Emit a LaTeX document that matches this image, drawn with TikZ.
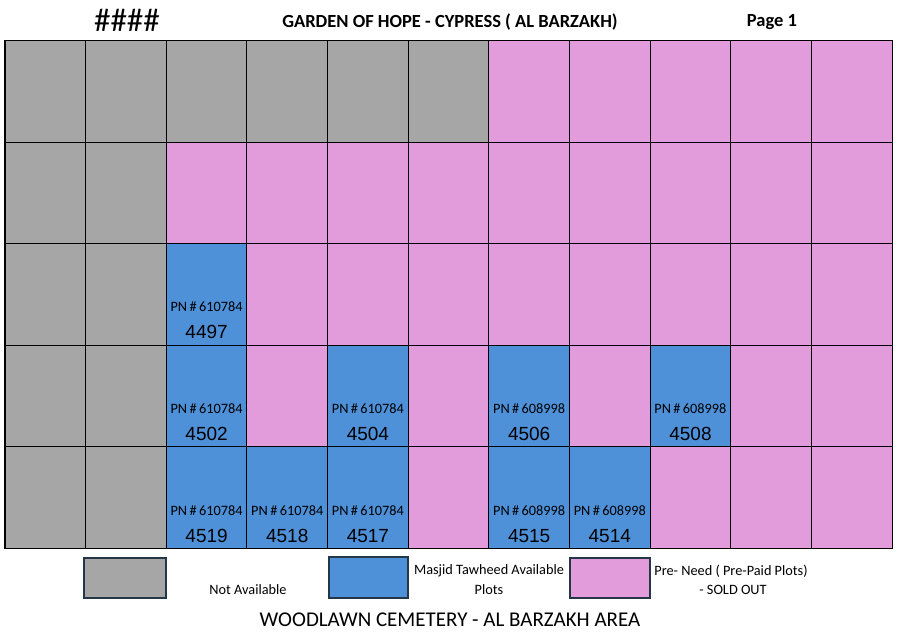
\documentclass[tikz,border=0pt]{standalone}
\usepackage{fontspec}
\setmainfont{Carlito}
\newfontfamily\arialfont{Liberation Sans}
\usepackage{tikz}

\definecolor{G}{HTML}{A6A6A6}
\definecolor{B}{HTML}{4E91D9}
\definecolor{P}{HTML}{E39CDB}
\definecolor{legendline}{HTML}{243746}

\tikzset{
  cell/.style={draw=black,line width=1.1pt,minimum width=80.64pt,minimum height=101.6pt,inner sep=0pt},
  lotno/.style={font=\arialfont\fontsize{19}{20}\selectfont,inner sep=0pt,anchor=base},
  pnno/.style={font=\fontsize{14.3}{15}\selectfont,inner sep=0pt,anchor=base},
  keybox/.style={draw=legendline,line width=1.8pt},
  keytext/.style={font=\fontsize{14.3}{15}\selectfont,inner sep=0pt}
}

\begin{document}
\begin{tikzpicture}[x=1pt,y=-1pt]
  \useasboundingbox (0,0) rectangle (899,632);
  % titles
  \node[font=\fontsize{33}{34}\selectfont] (hash) at (127,20) {\#\#\#\#};
  \node[font=\bfseries\fontsize{18.5}{20}\selectfont] (title) at (450,22) {GARDEN OF HOPE - CYPRESS ( AL BARZAKH)};
  \node[font=\bfseries\fontsize{18.5}{20}\selectfont] (page) at (772,22) {Page 1};
  % plot grid
  \foreach \r/\row in {1/{G,G,G,G,G,G,P,P,P,P,P},2/{G,G,P,P,P,P,P,P,P,P,P},3/{G,G,B,P,P,P,P,P,P,P,P},
                       4/{G,G,B,P,B,P,B,P,B,P,P},5/{G,G,B,B,B,P,B,B,P,P,P}}
    \foreach \t [count=\c] in \row
      \node[cell,fill=\t] (c\r-\c) at ({5+80.64*(\c-0.5)},{40.5+101.6*(\r-0.5)}) {};
  % available plots
  \foreach \r/\c/\pn/\lot in {3/3/610784/4497,4/3/610784/4502,4/5/610784/4504,4/7/608998/4506,4/9/608998/4508,
                              5/3/610784/4519,5/4/610784/4518,5/5/610784/4517,5/7/608998/4515,5/8/608998/4514}{
    \node[lotno] (lot\lot) at ([yshift=7pt]c\r-\c.south) {\lot};
    \node[pnno] (pn\lot) at ([yshift=34pt]c\r-\c.south) {PN\,\#\,\pn};
  }
  % legend
  \draw[keybox,fill=G] (84,558) rectangle (166,598); \node[keytext] (na) at (248,590) {Not Available};
  \draw[keybox,fill=B] (329,557) rectangle (408,598);
  \node[keytext] (mt1) at (489,571) {Masjid Tawheed Available}; \node[keytext] (mt2) at (489,590) {Plots};
  \draw[keybox,fill=P] (570,558) rectangle (650,598);
  \node[keytext] (pre1) at (731,571) {Pre- Need ( Pre-Paid Plots)}; \node[keytext] (pre2) at (733,590) {- SOLD OUT};
  \node[font=\fontsize{21}{22}\selectfont] (foot) at (450,620) {WOODLAWN CEMETERY - AL BARZAKH AREA};
\end{tikzpicture}
\end{document}
